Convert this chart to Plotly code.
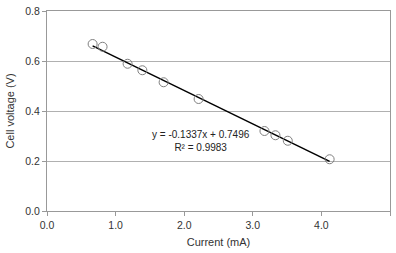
import plotly.graph_objects as go
import numpy as np

current = [0.665, 0.81, 1.175, 1.39, 1.70, 2.21, 3.17, 3.33, 3.51, 4.12]
voltage = [0.668, 0.657, 0.589, 0.563, 0.515, 0.448, 0.320, 0.303, 0.281, 0.207]
slope = -0.1337
intercept = 0.7496
r2 = 0.9983
x_ticks = [0.0, 1.0, 2.0, 3.0, 4.0, 5.0]
y_ticks = [0.0, 0.2, 0.4, 0.6, 0.8]

xl = np.array([min(current), max(current)])
yl = slope * xl + intercept

fig = go.Figure()
fig.add_trace(go.Scatter(x=xl, y=yl, mode="lines",
                         line=dict(color="black", width=1.5), showlegend=False))
fig.add_trace(go.Scatter(x=current, y=voltage, mode="markers",
                         marker=dict(symbol="circle-open", size=9,
                                     color="#808080", line=dict(width=1)),
                         showlegend=False))

fig.add_annotation(x=2.24, y=0.281, xref="x", yref="y",
                   text=f"y = {slope}x + {intercept}<br>R² = {r2}",
                   showarrow=False, align="center",
                   font=dict(family="Liberation Sans, Arial", size=10, color="#222222"))

axis_common = dict(showline=True, linecolor="#999999", linewidth=1,
                   mirror=True, ticks="outside", ticklen=4, tickcolor="#999999",
                   tickfont=dict(family="Liberation Sans, Arial", size=10.5, color="#333333"),
                   zeroline=False)

fig.update_xaxes(range=[0, 5], tickvals=x_ticks,
                 ticktext=[f"{v:.1f}" for v in x_ticks], showgrid=False,
                 title=dict(text="Current (mA)", standoff=8,
                            font=dict(family="Liberation Sans, Arial", size=11, color="#333333")),
                 **axis_common)
fig.update_yaxes(range=[0, 0.8], tickvals=y_ticks,
                 ticktext=[f"{v:.1f}" for v in y_ticks], showgrid=True,
                 gridcolor="#b0b0b0", gridwidth=1,
                 title=dict(text="Cell voltage (V)", standoff=8,
                            font=dict(family="Liberation Sans, Arial", size=11, color="#333333")),
                 **axis_common)

fig.update_layout(width=396, height=253,
                  margin=dict(l=47, r=6, t=11, b=42),
                  paper_bgcolor="white", plot_bgcolor="white")

fig.write_html("out.html")
